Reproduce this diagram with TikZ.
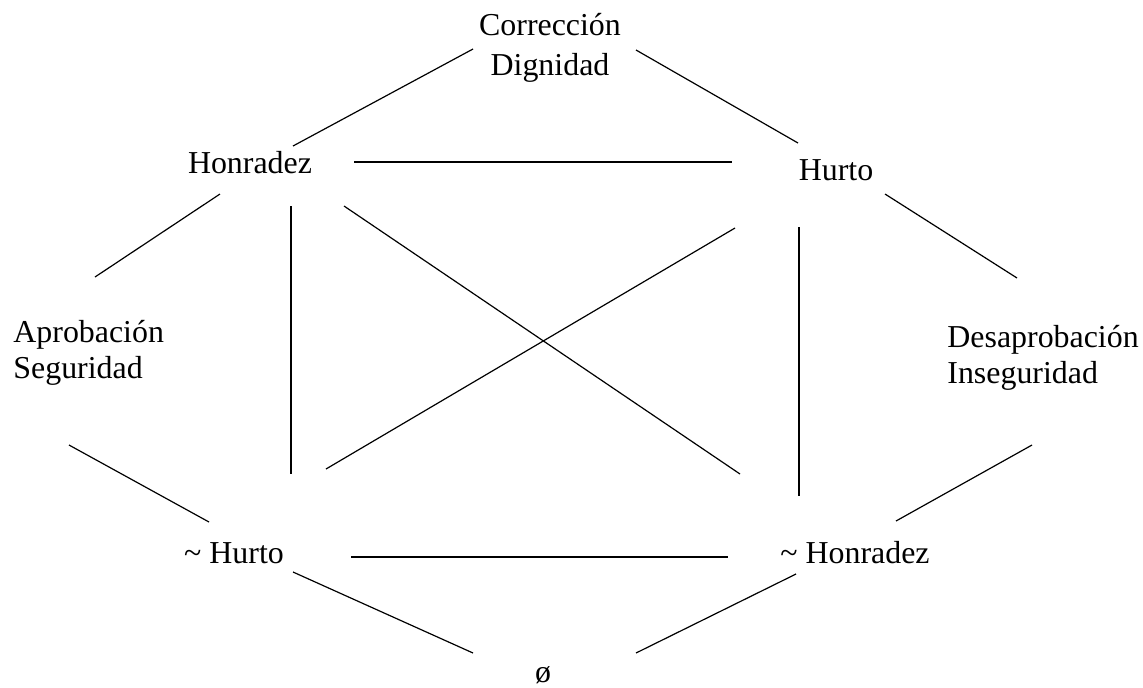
\documentclass[tikz,border=0pt]{standalone}
\usepackage{fontspec}
\setmainfont{Liberation Serif}
\usepackage{tikz}
\tikzset{
  term/.style={inner sep=0pt, font=\fontsize{15.95}{18}\selectfont},
  pair/.style={term, align=left, anchor=base west},
  link/.style={line width=0.6pt, black}
}

\begin{document}
\begin{tikzpicture}[x=0.5pt, y=-0.5pt]
  \useasboundingbox (0,0) rectangle (1143,687);

  % corners of the hexagon (base = last line)
  \node[term, align=center, anchor=base, font=\fontsize{15.95}{20}\selectfont] (cor) at (550,75) {Corrección\\Dignidad};
  \node[term, anchor=base] (hon) at (250,173) {Honradez};
  \node[term, anchor=base] (hur) at (836,180) {Hurto};
  \node[pair] (apr) at (13,378) {Aprobación\\Seguridad};
  \node[pair] (des) at (947,383) {Desaprobación\\Inseguridad};
  \node[term, anchor=base] (nhu) at (234,563) {\textasciitilde\ Hurto};
  \node[term, anchor=base] (nho) at (855,563) {\textasciitilde\ Honradez};
  \node[term, anchor=base] (emp) at (543,682) {ø};

  % outer sides
  \draw[link] ([shift={(43,-27)}]hon.base) -- ([shift={(-77,-26)}]cor.base);
  \draw[link] ([shift={(86,-25)}]cor.base) -- ([shift={(-38,-37)}]hur.base);
  \draw[link] ([shift={(-30,21)}]hon.base) -- ([shift={(82,-101)}]apr.base west);
  \draw[link] ([shift={(49,14)}]hur.base) -- ([shift={(70,-105)}]des.base west);
  \draw[link] ([shift={(56,67)}]apr.base west) -- ([shift={(-25,-41)}]nhu.base);
  \draw[link] ([shift={(85,62)}]des.base west) -- ([shift={(41,-42)}]nho.base);
  \draw[link] ([shift={(59,9)}]nhu.base) -- ([shift={(-70,-29)}]emp.base);
  \draw[link] ([shift={(-59,11)}]nho.base) -- ([shift={(93,-29)}]emp.base);

  % inner square and diagonals
  \draw[link] ([shift={(104,-11)}]hon.base) -- ([shift={(-104,-18)}]hur.base);
  \draw[link] ([shift={(117,-6)}]nhu.base) -- ([shift={(-127,-6)}]nho.base);
  \draw[link] ([shift={(41,33)}]hon.base) -- ([shift={(57,-89)}]nhu.base);
  \draw[link] ([shift={(-37,47)}]hur.base) -- ([shift={(-56,-67)}]nho.base);
  \draw[link] ([shift={(94,33)}]hon.base) -- ([shift={(-115,-89)}]nho.base);
  \draw[link] ([shift={(-101,48)}]hur.base) -- ([shift={(92,-94)}]nhu.base);
\end{tikzpicture}
\end{document}
